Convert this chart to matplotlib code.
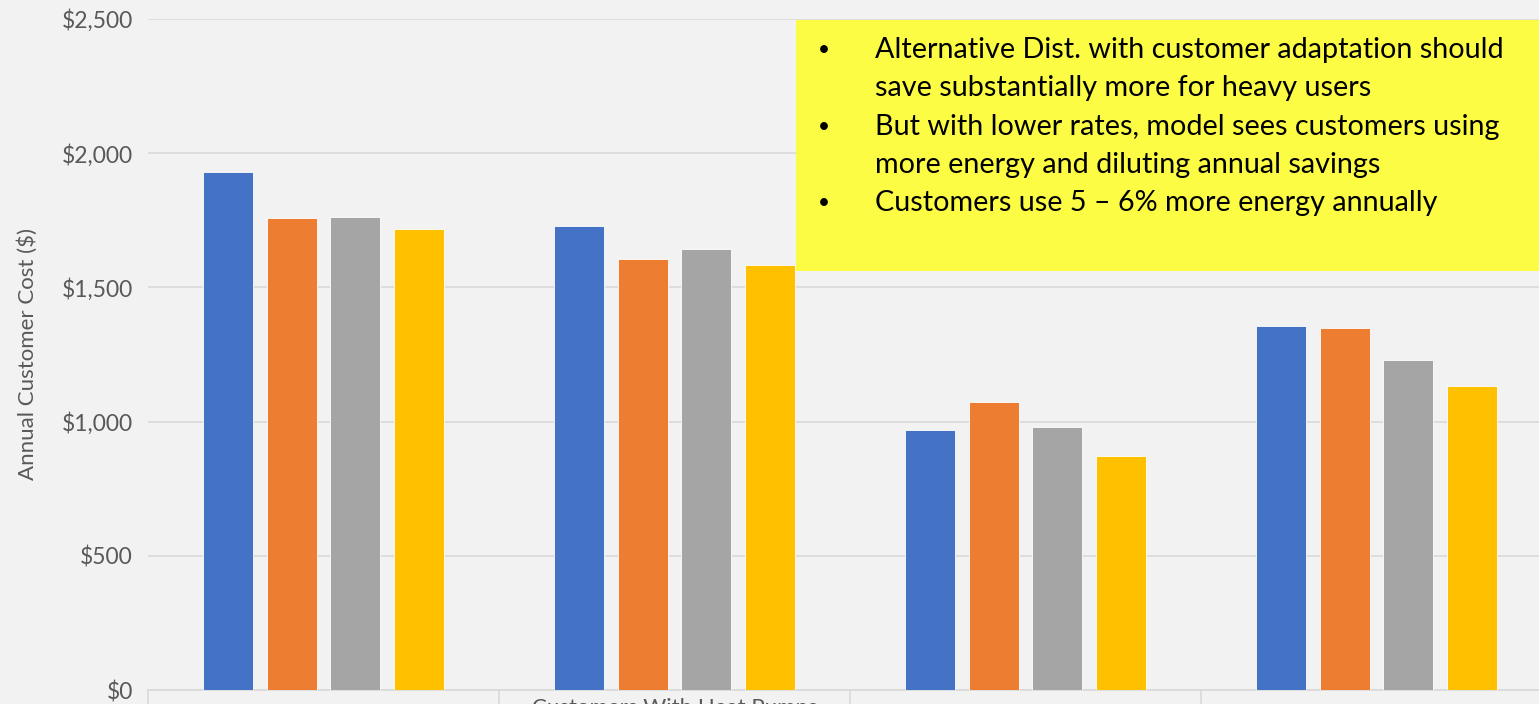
import numpy as np
import matplotlib
matplotlib.use('Agg')
import matplotlib.pyplot as plt
from matplotlib.patches import Rectangle
from matplotlib.ticker import FuncFormatter

# Data
categories = ['', 'Customers With Heat Pumps', '', '']
series_a = [1930, 1729, 969, 1356]
series_b = [1759, 1606, 1073, 1349]
series_c = [1762, 1643, 980, 1230]
series_d = [1718, 1583, 872, 1133]
y_ticks = [0, 500, 1000, 1500, 2000, 2500]
notes = [
    ['Alternative Dist. with customer adaptation should', 'save substantially more for heavy users'],
    ['But with lower rates, model sees customers using', 'more energy and diluting annual savings'],
    ['Customers use 5 \u2013 6% more energy annually'],
]

colors = ['#4472C4', '#ED7D31', '#A5A5A5', '#FFC000']
bg = '#F2F2F2'
grid_c = '#D9D9D9'
text_c = '#595959'

plt.rcParams['font.family'] = ['Lato', 'DejaVu Sans']

W, H = 1539, 704
fig = plt.figure(figsize=(W / 100, H / 100), dpi=100, facecolor=bg)
ax = fig.add_axes([148 / W, 14 / H, 1404 / W, 671 / H])
ax.set_facecolor(bg)

x = np.arange(len(categories))
step = 0.181
width = 0.142
for i, vals in enumerate([series_a, series_b, series_c, series_d]):
    ax.bar(x + (i - 1.5) * step, vals, width, color=colors[i],
           edgecolor='white', linewidth=0.6, zorder=3)

ax.set_xlim(-0.5, len(categories) - 0.5)
ax.set_ylim(0, 2500)
ax.set_yticks(y_ticks)
ax.yaxis.set_major_formatter(FuncFormatter(lambda v, p: '${:,.0f}'.format(v)))
ax.yaxis.grid(True, color=grid_c, linewidth=1.2, zorder=0)
ax.tick_params(axis='y', length=0, labelsize=16.5, labelcolor=text_c, pad=11)

ax.set_xticks(x)
ax.set_xticklabels(categories)
ax.tick_params(axis='x', which='major', length=0, labelsize=16,
               labelcolor=text_c, pad=6)
ax.set_xticks(np.arange(-0.5, len(categories)), minor=True)
ax.tick_params(axis='x', which='minor', length=16, width=1.2, color=grid_c,
               direction='out')

for s in ['top', 'right', 'left']:
    ax.spines[s].set_visible(False)
ax.spines['bottom'].set_color(grid_c)
ax.spines['bottom'].set_linewidth(1.2)

ax.set_ylabel('Annual Customer Cost ($)', fontsize=16, color=text_c, labelpad=17)

# yellow call-out box
fig.patches.append(Rectangle((796 / W, 1 - 271 / H), (W - 796) / W, 251 / H,
                             transform=fig.transFigure, facecolor='#FDFD3F',
                             edgecolor='none', zorder=5, alpha=0.97))
y = 50
for item in notes:
    fig.text(818 / W, 1 - y / H, '\u2022', fontsize=15, va='center', zorder=6)
    for line in item:
        fig.text(875 / W, 1 - y / H, line, fontsize=20.7, va='center', zorder=6)
        y += 38.3

fig.savefig('out.png', dpi=100, facecolor=bg)
